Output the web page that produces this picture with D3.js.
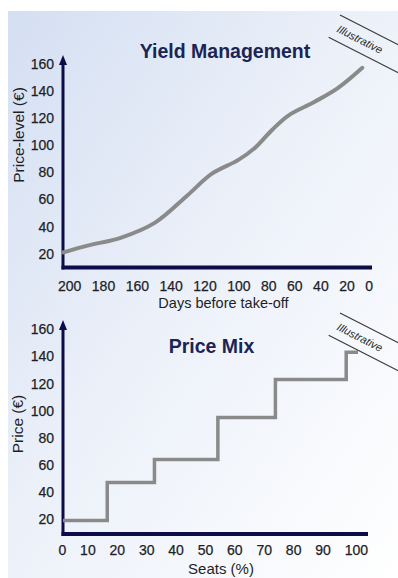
<!DOCTYPE html>
<html>
<head>
<meta charset="utf-8">
<script src="https://cdn.jsdelivr.net/npm/d3@7"></script>
<style>
  html, body { margin: 0; padding: 0; background: #fff; }
  svg { display: block; }
  text { font-family: "Liberation Sans", Arial, sans-serif; }
</style>
</head>
<body>
<svg id="chart" width="398" height="578"></svg>
<script>
// Yield management: price level against days before take-off
const yieldDays  = [200, 184, 162, 140, 119, 103, 86, 75, 64, 53, 36, 21, 5];
const yieldPrice = [21, 26, 32, 43, 63, 79, 89, 98, 111, 122, 132, 142, 157];
const dayTicks   = [200, 180, 160, 140, 120, 100, 80, 60, 40, 20, 0];

// Price mix: price steps against share of seats sold
const seatBreaks = [0, 15, 31, 52.5, 72, 96, 100];
const mixPrice   = [19, 47, 64, 95, 123, 143, 143];
const seatTicks  = [0, 10, 20, 30, 40, 50, 60, 70, 80, 90, 100];

const priceTicks = [20, 40, 60, 80, 100, 120, 140, 160];

const NAVY = "#0c0c48";
const TITLE = "#1c2454";
const INK = "#1e1e28";
const LINE = "#8a8a8a";

const svg = d3.select("#chart");

// soft blue-to-white backdrop
const defs = svg.append("defs");
const grad = defs.append("linearGradient")
  .attr("id", "bg").attr("x1", "0").attr("y1", "0").attr("x2", "1").attr("y2", "1");
grad.append("stop").attr("offset", "0").attr("stop-color", "#d4dff2");
grad.append("stop").attr("offset", "0.45").attr("stop-color", "#ebf0f9");
grad.append("stop").attr("offset", "1").attr("stop-color", "#ffffff");
svg.append("rect").attr("x", 8).attr("y", 11).attr("width", 390).attr("height", 567)
  .attr("fill", "url(#bg)");

// lay tick labels out left to right with even gaps between them
function flowLabels(g, labels, x0, x1, baseline) {
  const texts = g.selectAll("text").data(labels).join("text")
    .attr("y", baseline)
    .attr("font-size", 14)
    .attr("fill", INK)
    .attr("stroke", INK).attr("stroke-width", 0.25)
    .text(d => d);
  const widths = texts.nodes().map(n => n.getComputedTextLength());
  const gap = (x1 - x0 - d3.sum(widths)) / (labels.length - 1);
  const xs = [];
  let x = x0;
  widths.forEach(w => { xs.push(x); x += w + gap; });
  texts.attr("x", (d, i) => xs[i]);
}

function drawFrame(y, xLeft, xRight, axisY, arrowTop) {
  // value axis with arrow
  svg.append("line")
    .attr("x1", xLeft).attr("x2", xLeft)
    .attr("y1", axisY + 2).attr("y2", arrowTop + 8)
    .attr("stroke", NAVY).attr("stroke-width", 3);
  svg.append("path")
    .attr("d", `M${xLeft - 4},${arrowTop + 10} L${xLeft},${arrowTop} L${xLeft + 4},${arrowTop + 10} Z`)
    .attr("fill", NAVY);
  // base axis
  svg.append("line")
    .attr("x1", xLeft - 1.5).attr("x2", xRight)
    .attr("y1", axisY).attr("y2", axisY)
    .attr("stroke", NAVY).attr("stroke-width", 4);
  // price tick labels
  const ax = svg.append("g")
    .attr("transform", `translate(${xLeft},0)`)
    .call(d3.axisLeft(y).tickValues(priceTicks).tickSize(0).tickPadding(9));
  ax.select(".domain").remove();
  ax.selectAll("text")
    .attr("font-size", 14)
    .attr("font-family", "\"Liberation Sans\", Arial, sans-serif")
    .attr("fill", INK)
    .attr("stroke", INK).attr("stroke-width", 0.25);
}

function drawStamp(x, y) {
  const g = svg.append("g")
    .attr("transform", `translate(${x},${y}) rotate(27)`);
  g.append("line").attr("x1", 0).attr("x2", 110).attr("y1", 0).attr("y2", 0)
    .attr("stroke", "#3a3a3a").attr("stroke-width", 1.2);
  g.append("line").attr("x1", 0).attr("x2", 110).attr("y1", 25).attr("y2", 25)
    .attr("stroke", "#3a3a3a").attr("stroke-width", 1.2);
  g.append("text").attr("x", 4).attr("y", 16.5)
    .attr("font-size", 11).attr("font-style", "italic").attr("fill", "#2a2a2a")
    .text("Illustrative");
}

// ---------- Yield Management ----------
const x1 = d3.scaleLinear().domain([200, 0]).range([63, 370]);
const y1 = d3.scaleLinear().domain([10, 160]).range([267.4, 63.7]);

drawFrame(y1, 63, 372, 267.4, 55);

svg.append("path")
  .datum(yieldDays.map((d, i) => [d, yieldPrice[i]]))
  .attr("fill", "none")
  .attr("stroke", LINE)
  .attr("stroke-width", 4)
  .attr("stroke-linecap", "round")
  .attr("d", d3.line().x(d => x1(d[0])).y(d => y1(d[1])).curve(d3.curveCatmullRom.alpha(0.5)));

flowLabels(svg.append("g"), dayTicks, 58, 373, 291);

svg.append("text").attr("x", 225).attr("y", 58).attr("text-anchor", "middle")
  .attr("font-size", 19.5).attr("font-weight", "bold").attr("fill", TITLE)
  .text("Yield Management");
svg.append("text").attr("x", 223.5).attr("y", 307.5).attr("text-anchor", "middle")
  .attr("font-size", 14.5).attr("fill", INK)
  .text("Days before take-off");
svg.append("text").attr("transform", "translate(24,135) rotate(-90)")
  .attr("text-anchor", "middle").attr("font-size", 15.5).attr("fill", INK)
  .text("Price-level (€)");

drawStamp(340, 15);

// ---------- Price Mix ----------
const x2 = d3.scaleLinear().domain([0, 100]).range([63, 358]);
const y2 = d3.scaleLinear().domain([10, 160]).range([532.8, 329.3]);

drawFrame(y2, 63, 368, 534, 320);

svg.append("path")
  .datum(seatBreaks.map((d, i) => [d, mixPrice[i]]))
  .attr("fill", "none")
  .attr("stroke", LINE)
  .attr("stroke-width", 3.5)
  .attr("d", d3.line().x(d => x2(d[0])).y(d => y2(d[1])).curve(d3.curveStepAfter));

flowLabels(svg.append("g"), seatTicks, 58.5, 368, 555);

svg.append("text").attr("x", 211.5).attr("y", 353).attr("text-anchor", "middle")
  .attr("font-size", 19.5).attr("font-weight", "bold").attr("fill", TITLE)
  .text("Price Mix");
svg.append("text").attr("x", 221).attr("y", 574).attr("text-anchor", "middle")
  .attr("font-size", 15).attr("fill", INK)
  .text("Seats (%)");
svg.append("text").attr("transform", "translate(23,424) rotate(-90)")
  .attr("text-anchor", "middle").attr("font-size", 15.5).attr("fill", INK)
  .text("Price (€)");

drawStamp(340, 313);
</script>
</body>
</html>
